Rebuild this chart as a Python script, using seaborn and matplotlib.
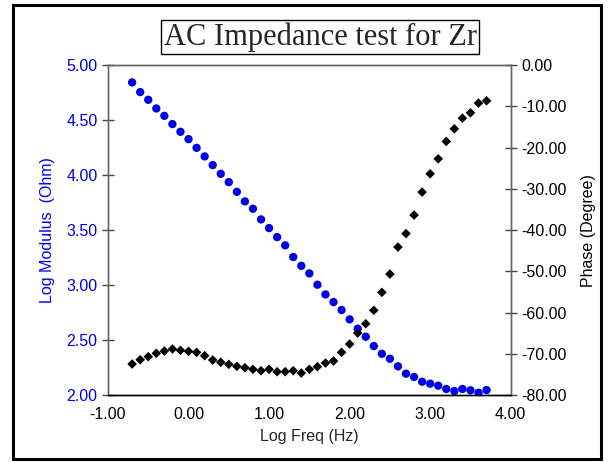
import numpy as np
import pandas as pd
import matplotlib.pyplot as plt
import seaborn as sns
from matplotlib.patches import Rectangle

# ------------------------------------------------------------
# Data
# ------------------------------------------------------------
log_freq = [-0.70, -0.60, -0.50, -0.40, -0.30, -0.20, -0.10, 0.00, 0.10, 0.20,
            0.30, 0.40, 0.50, 0.60, 0.70, 0.80, 0.90, 1.00, 1.10, 1.20,
            1.30, 1.40, 1.50, 1.60, 1.70, 1.80, 1.90, 2.00, 2.10, 2.20,
            2.30, 2.40, 2.50, 2.60, 2.70, 2.80, 2.90, 3.00, 3.10, 3.20,
            3.30, 3.40, 3.50, 3.60, 3.70]

log_modulus = [4.843, 4.755, 4.685, 4.606, 4.539, 4.464, 4.394, 4.327, 4.248, 4.170,
               4.091, 4.012, 3.936, 3.848, 3.761, 3.694, 3.597, 3.518, 3.436, 3.361,
               3.255, 3.175, 3.106, 3.003, 2.915, 2.845, 2.773, 2.688, 2.603, 2.530,
               2.445, 2.375, 2.330, 2.261, 2.194, 2.164, 2.121, 2.103, 2.085, 2.055,
               2.036, 2.055, 2.043, 2.021, 2.045]

phase = [-72.48, -71.44, -70.71, -69.89, -69.33, -68.85, -69.16, -69.41, -69.65, -70.47,
         -71.52, -72.07, -72.56, -73.04, -73.38, -73.77, -74.11, -73.77, -74.35, -74.35,
         -74.11, -74.67, -73.77, -73.14, -72.24, -71.76, -69.65, -67.64, -64.97, -62.72,
         -59.47, -55.10, -50.67, -44.12, -40.85, -36.36, -30.79, -26.35, -22.72, -18.50,
         -15.44, -12.85, -11.56, -9.21, -8.65]

x_ticks = [-1, 0, 1, 2, 3, 4]
mod_ticks = [2.0, 2.5, 3.0, 3.5, 4.0, 4.5, 5.0]
phase_ticks = [-80, -70, -60, -50, -40, -30, -20, -10, 0]

df = pd.DataFrame({"log_freq": log_freq, "log_modulus": log_modulus, "phase": phase})

BLUE = "#0000e6"
FS = 11.5

sns.set_style("white")
plt.rcParams["font.family"] = ["Liberation Sans", "DejaVu Sans"]

fig = plt.figure(figsize=(6.08, 4.62), dpi=100)
ax = fig.add_axes([0.1776, 0.145, 0.6624, 0.714])
ax2 = ax.twinx()

sns.scatterplot(data=df, x="log_freq", y="log_modulus", ax=ax, color=BLUE,
                marker="o", s=36, edgecolor="none", zorder=3)
sns.scatterplot(data=df, x="log_freq", y="phase", ax=ax2, color="black",
                marker="D", s=24, edgecolor="none", zorder=3)

ax.set_xlim(-1, 4)
ax.set_ylim(2, 5)
ax2.set_ylim(-80, 0)
ax.set_xticks(x_ticks)
ax.set_xticklabels([f"{v:.2f}" for v in x_ticks])
ax.set_yticks(mod_ticks)
ax.set_yticklabels([f"{v:.2f}" for v in mod_ticks])
ax2.set_yticks(phase_ticks)
ax2.set_yticklabels([f"{v:.2f}" for v in phase_ticks])

ax.tick_params(axis="x", direction="inout", length=9, width=1, colors="black",
               labelsize=FS, pad=4)
ax.tick_params(axis="y", direction="inout", length=9, width=1, color="#444444",
               labelcolor=BLUE, labelsize=FS, pad=3)
ax2.tick_params(axis="y", direction="inout", length=9, width=1, color="#444444",
                labelcolor="black", labelsize=FS, pad=3)

ax.set_xlabel("Log Freq (Hz)", fontsize=FS, labelpad=5)
ax.set_ylabel("Log Modulus  (Ohm)", fontsize=FS, color=BLUE, labelpad=8)
ax2.set_ylabel("Phase (Degree)", fontsize=FS, color="black", labelpad=10)

for a in (ax, ax2):
    for side in ("top", "left", "right"):
        a.spines[side].set_color("#666666")
        a.spines[side].set_linewidth(1)
    a.spines["bottom"].set_color("black")
    a.spines["bottom"].set_linewidth(1)

# title in a box, serif
fig.text(0.527, 0.92, "AC Impedance test for Zr", ha="center", va="center",
         fontsize=22, family=["Liberation Serif", "DejaVu Serif"],
         bbox=dict(boxstyle="square,pad=0.08", facecolor="white",
                   edgecolor="black", linewidth=1))

# chart border
fig.patches.append(Rectangle((0.022, 0.006), 0.966, 0.984, transform=fig.transFigure,
                             fill=False, edgecolor="black", linewidth=2.2))

fig.savefig("out.png", dpi=100)
